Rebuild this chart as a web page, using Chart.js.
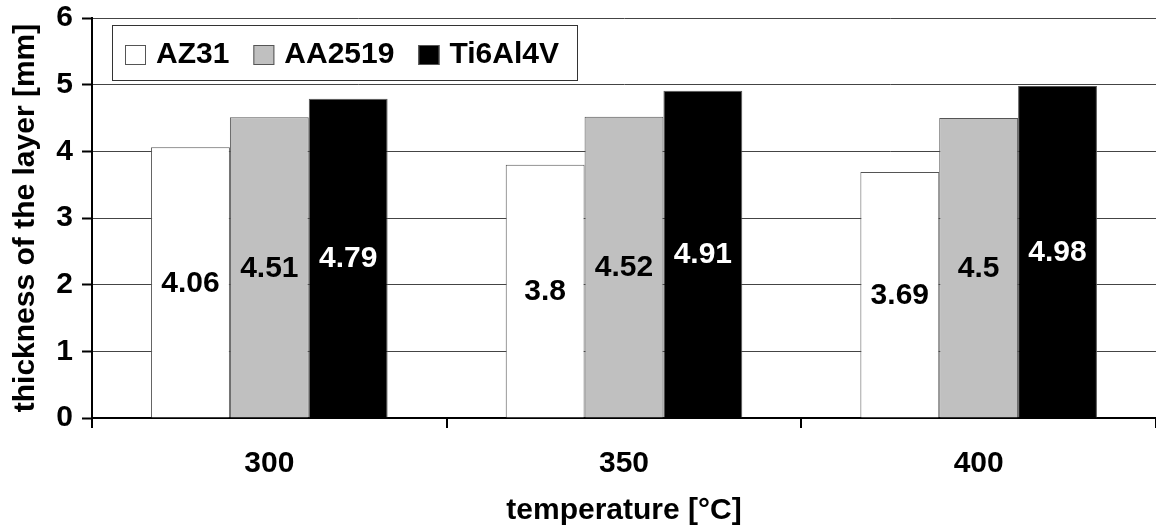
<!DOCTYPE html>
<html>
<head>
<meta charset="utf-8">
<script src="https://cdn.jsdelivr.net/npm/chart.js@4.4.1/dist/chart.umd.min.js"></script>
<style>
  html, body { margin: 0; padding: 0; background: #fff; }
  #wrap { width: 1156px; height: 529px; }
</style>
</head>
<body>
<div id="wrap"><canvas id="chart" width="1156" height="529"></canvas></div>
<script>
const FONT = '"Liberation Sans", Arial, sans-serif';

// data
const temperatures = ['300', '350', '400'];
const seriesNames = ['AZ31', 'AA2519', 'Ti6Al4V'];
const az31 = [4.06, 3.8, 3.69];
const aa2519 = [4.51, 4.52, 4.5];
const ti6al4v = [4.79, 4.91, 4.98];

const fills = ['#ffffff', '#c0c0c0', '#000000'];
const labelColors = ['#000000', '#000000', '#ffffff'];

// value written in the middle of each bar
const barLabels = {
    id: 'barLabels',
    afterDatasetsDraw(chart) {
        const ctx = chart.ctx;
        ctx.save();
        ctx.font = 'bold 30px ' + FONT;
        ctx.textAlign = 'center';
        ctx.textBaseline = 'middle';
        chart.data.datasets.forEach((ds, i) => {
            const meta = chart.getDatasetMeta(i);
            meta.data.forEach((bar, j) => {
                ctx.fillStyle = labelColors[i];
                ctx.fillText(String(ds.data[j]), bar.x, (bar.y + bar.base) / 2 + 1);
            });
        });
        ctx.restore();
    }
};

// boxed legend inside the plot, top left
const boxLegend = {
    id: 'boxLegend',
    afterDraw(chart) {
        const ctx = chart.ctx;
        ctx.save();
        ctx.fillStyle = '#fff';
        ctx.fillRect(112, 25, 465, 55);
        ctx.strokeStyle = '#333';
        ctx.lineWidth = 1;
        ctx.strokeRect(112.5, 25.5, 465, 55);
        ctx.font = 'bold 30px ' + FONT;
        ctx.textBaseline = 'middle';
        ctx.textAlign = 'left';
        let x = 125;
        chart.data.datasets.forEach((ds) => {
            ctx.fillStyle = ds.backgroundColor;
            ctx.fillRect(x, 45, 21, 20);
            ctx.strokeStyle = '#555';
            ctx.strokeRect(x + 0.5, 45.5, 20, 19);
            x += 31;
            ctx.fillStyle = '#000';
            ctx.fillText(ds.label, x, 55);
            x += ctx.measureText(ds.label).width + 24;
        });
        ctx.restore();
    }
};

new Chart(document.getElementById('chart'), {
    type: 'bar',
    data: {
        labels: temperatures,
        datasets: [
            { label: seriesNames[0], data: az31, backgroundColor: fills[0] },
            { label: seriesNames[1], data: aa2519, backgroundColor: fills[1] },
            { label: seriesNames[2], data: ti6al4v, backgroundColor: fills[2] }
        ].map(d => Object.assign(d, {
            borderColor: '#555',
            borderWidth: 1,
            barPercentage: 1,
            categoryPercentage: 0.667
        }))
    },
    options: {
        responsive: false,
        animation: false,
        devicePixelRatio: 1,
        layout: { padding: { top: 18, right: 0, left: 0, bottom: 0 } },
        plugins: {
            legend: { display: false },
            tooltip: { enabled: false }
        },
        scales: {
            x: {
                offset: true,
                grid: {
                    offset: true,
                    drawOnChartArea: false,
                    drawTicks: true,
                    tickLength: 10,
                    color: '#000',
                    lineWidth: 2
                },
                border: { display: true, color: '#000', width: 2 },
                ticks: {
                    color: '#000',
                    font: { family: FONT, size: 30, weight: 'bold' },
                    padding: 18,
                    maxRotation: 0
                },
                title: {
                    display: true,
                    text: 'temperature [°C]',
                    color: '#000',
                    font: { family: FONT, size: 30, weight: 'bold' },
                    padding: { top: 0, bottom: 0 }
                },
                afterFit(scale) {
                    scale.height = 111;
                    scale.paddingLeft = 0;
                    scale.paddingRight = 0;
                }
            },
            y: {
                min: 0,
                max: 6,
                grid: {
                    color: '#444',
                    lineWidth: 1,
                    drawTicks: true,
                    tickLength: 10,
                    tickColor: '#000',
                    tickWidth: 2
                },
                border: { display: true, color: '#000', width: 2 },
                ticks: {
                    stepSize: 1,
                    color: '#000',
                    font: { family: FONT, size: 30, weight: 'bold' },
                    padding: 9
                },
                title: {
                    display: true,
                    text: 'thickness of the layer [mm]',
                    color: '#000',
                    font: { family: FONT, size: 30, weight: 'bold' },
                    padding: { top: 8, bottom: 0 }
                },
                afterFit(scale) {
                    scale.width = 92;
                    scale.paddingTop = 0;
                    scale.paddingBottom = 0;
                }
            }
        }
    },
    plugins: [barLabels, boxLegend]
});
</script>
</body>
</html>
